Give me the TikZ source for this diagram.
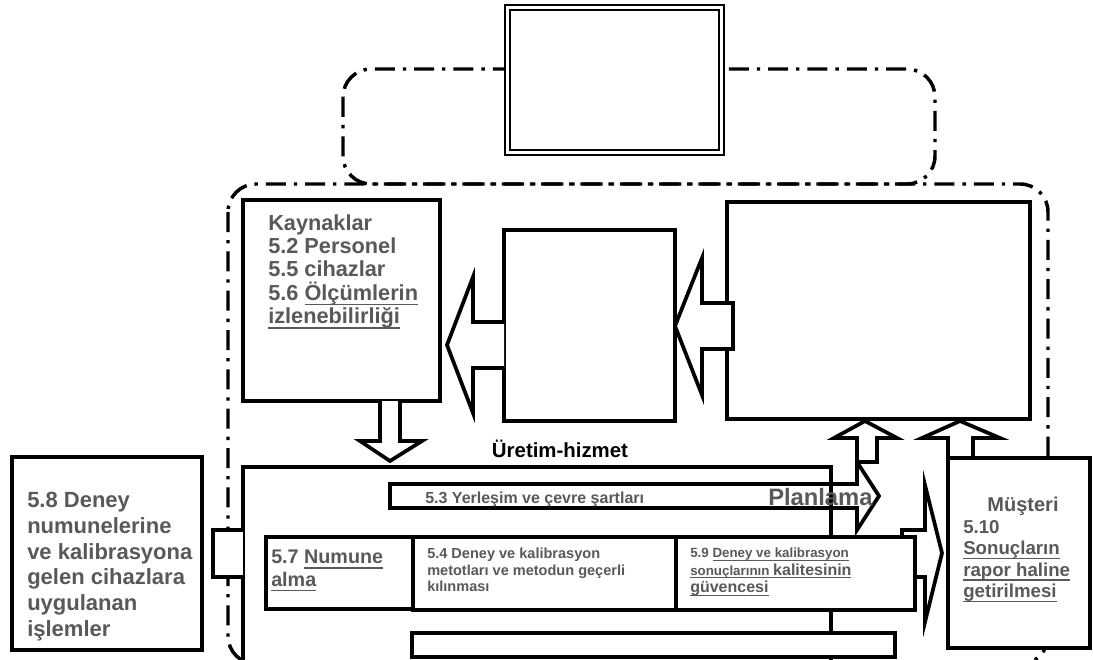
\documentclass[tikz,border=0pt]{standalone}
\usepackage{fontspec}
\setmainfont{Liberation Sans}
\usetikzlibrary{fit}
\definecolor{txtgray}{RGB}{89,89,89}
\newcommand{\ulin}[1]{\leavevmode\setbox0\hbox{#1}\rlap{\rule[-0.24em]{\wd0}{1.1pt}}\box0}
\begin{document}
\begin{tikzpicture}[x=0.75pt,y=-0.75pt,
  box/.style={draw,line width=2.8pt,fill=white,inner sep=0pt,outer sep=0pt},
  blockarrow/.style={draw,line width=2.8pt,fill=white,line join=miter},
  dashdot/.style={draw,line width=2.6pt,dash pattern=on 15pt off 6pt on 2.5pt off 6pt,rounded corners=21pt},
  lbl/.style={text=txtgray,inner sep=0pt,align=left}]
\useasboundingbox (0,0) rectangle (1093,660);
\clip (0,0) rectangle (1093,660);
\draw[dashdot] (343,69) rectangle (935,184);
\draw[dashdot] (228,184) rectangle (1048,664);
\node[draw,line width=1.1pt,fill=white,inner sep=0pt,fit={(505,5) (724,155)}] (top) {};
\node[draw,line width=2.2pt,inner sep=0pt,fit={(510,10) (719,150)}] (topin) {};
\node[box,fit={(243,200) (440,401)}] (kayn) {};
\node[box,fit={(504,230) (675,421)}] (mid) {};
\node[box,fit={(727,202) (1030,419)}] (right) {};
\draw[blockarrow] (733,303) -- (702,303) -- (702,258) -- (675,326) -- (702,395) -- (702,349) -- (733,349) -- cycle;
\draw[blockarrow] (504,322) -- (473,322) -- (473,277) -- (447,345) -- (473,413) -- (473,368) -- (504,368);
\draw[blockarrow] (380,401) -- (380,441) -- (360,441) -- (390,461) -- (422,441) -- (400,441) -- (400,401);
\node[box,fit={(243,467) (831,690)}] (uretim) {};
\draw[line width=2.8pt,line join=miter] (390,484) -- (857,484) -- (857,462) -- (879,496) -- (857,530) -- (857,508) -- (390,508) -- cycle;
\draw[blockarrow] (857,462) -- (857,438) -- (834,438) -- (865,421) -- (897,438) -- (877,438) -- (877,462) -- cycle;
\draw[blockarrow] (948,458) -- (948,438) -- (922,438) -- (960,421) -- (1000,438) -- (973,438) -- (973,458);
\draw[blockarrow] (902,577) -- (902,530) -- (925,530) -- (925,485) -- (942,553) -- (925,622) -- (925,577) -- cycle;
\node[box,fit={(266,537) (413,609)}] (numune) {};
\node[box,fit={(413,537) (676,610)}] (metot) {};
\node[box,fit={(676,537) (915,610)}] (guvence) {};
\node[box,fit={(412,633) (895,657)}] (alt) {};
\node[box,fit={(12,457) (202,650)}] (islem) {};
\node[box,fit={(948,458) (1090,648)}] (musteri) {};
\draw[blockarrow] (243,530) -- (213,530) -- (213,577) -- (243,577);
\node[lbl,anchor=north west,font=\bfseries\fontsize{16.3}{17.5}\selectfont] (kayntxt) at (268,214)
  {Kaynaklar\\5.2 Personel\\5.5 cihazlar\\5.6 \ulin{Ölçümlerin}\\\ulin{izlenebilirliği}};
\node[lbl,anchor=north west,font=\bfseries\fontsize{16.5}{19.3}\selectfont] (islemtxt) at (27,492)
  {5.8 Deney\\numunelerine\\ve kalibrasyona\\gelen cihazlara\\uygulanan\\işlemler};
\node[lbl,anchor=base,font=\bfseries\fontsize{15}{18}\selectfont] (musttxt) at (1023,511) {Müşteri};
\node[lbl,anchor=north west,font=\bfseries\fontsize{14}{16.1}\selectfont] (rapor) at (963,520)
  {5.10\\\ulin{Sonuçların}\\\ulin{rapor haline}\\\ulin{getirilmesi}};
\node[anchor=base,inner sep=0pt,font=\bfseries\fontsize{15.3}{18}\selectfont] (uretimtxt) at (560,457) {Üretim-hizmet};
\node[lbl,anchor=base west,font=\bfseries\fontsize{12}{14}\selectfont] (yerlesim) at (425,503) {5.3 Yerleşim ve çevre şartları};
\node[lbl,anchor=base west,font=\bfseries\fontsize{17.8}{20}\selectfont] (planlama) at (768,505) {Planlama};
\node[lbl,anchor=north west,font=\bfseries\fontsize{14.8}{17}\selectfont] (numtxt) at (271,550)
  {5.7 \ulin{Numune}\\\ulin{alma}};
\node[lbl,anchor=north west,font=\bfseries\fontsize{10.9}{12.4}\selectfont] (metottxt) at (427,548)
  {5.4 Deney ve kalibrasyon\\metotları ve metodun geçerli\\kılınması};
\node[lbl,anchor=north west,font=\bfseries\fontsize{10}{13}\selectfont] (guvtxt) at (690,548)
  {5.9 \ulin{Deney ve kalibrasyon}\\\ulin{sonuçlarının {\fontsize{12}{13}\selectfont kalitesinin}}\\{\fontsize{12}{13}\selectfont\ulin{güvencesi}}};
\end{tikzpicture}
\end{document}
